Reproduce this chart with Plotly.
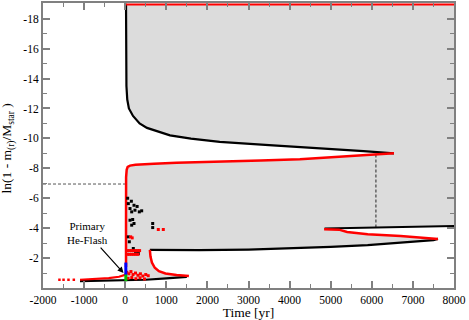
import plotly.graph_objects as go

# ===========================
# DATA
# ===========================

T_END = 8000
Y_SURFACE = -19.0

# upper convective boundary (black), from surface down to tip
env_t = [20, 22, 30, 50, 90, 190, 350, 530, 850, 1090, 1600, 2300, 3500, 4740, 5800, 6540]
env_y = [-19.0, -15.0, -13.5, -12.6, -12.0, -11.5, -11.0, -10.7, -10.4, -10.2, -9.98, -9.77, -9.55, -9.35, -9.15, -9.0]

# flash driven zone, upper edge (red), tip first
flash_t = [6540, 6000, 5300, 4250, 3300, 2300, 1250, 700, 440, 250, 117, 60, 36, 22, 20, 20]
flash_y = [-9.0, -8.9, -8.77, -8.6, -8.53, -8.47, -8.37, -8.3, -8.27, -8.23, -8.18, -8.1, -7.9, -7.4, -4.0, -1.4]

# secondary zone : black upper edge and red lower edge
inner_t = [4850, 5200, 6000, 7000, 8000]
inner_y = [-3.98, -4.0, -4.05, -4.1, -4.14]
sec_t = [4840, 5200, 5400, 5900, 6700, 7610]
sec_y = [-3.92, -3.9, -3.75, -3.6, -3.47, -3.28]

# lower boundary of the zone (black)
low_t = [600, 1800, 3000, 4000, 5000, 5900, 6800, 7500, 7610]
low_y = [-2.55, -2.53, -2.57, -2.64, -2.75, -2.87, -3.05, -3.2, -3.28]

# notch below the lower boundary (red)
notch_t = [600, 615, 650, 720, 820, 980, 1250, 1550]
notch_y = [-2.55, -2.1, -1.7, -1.35, -1.12, -0.97, -0.87, -0.8]

# bottom line (black) and pre-flash track (red)
base_t = [-1100, -500, 0, 500, 1000, 1500]
base_y = [-0.46, -0.48, -0.5, -0.55, -0.64, -0.75]
pre_t = [-1100, -700, -400, -150, 0, 20]
pre_y = [-0.55, -0.6, -0.66, -0.75, -0.88, -1.0]
pre_dot_t = [-1600, -1500, -1380, -1250]
pre_dot_y = [-0.55, -0.55, -0.55, -0.55]

# surface (red)
surf_t = [20, 8000]
surf_y = [-18.95, -18.95]

# scattered convective points
blk_dot_t = [76, 117, 214, 238, 158, 343, 401, 117, 182, 214, 158, 669, 669, 76, 100, 197, 60, 150, 290, 250, 320]
blk_dot_y = [-5.64, -5.31, -5.53, -5.2, -5.09, -5.09, -5.16, -4.53, -4.58, -4.31, -4.2, -4.31, -4.04,
             -3.42, -3.09, -2.64, -6.0, -5.8, -5.45, -2.45, -2.3]
red_dot_t = [805, 927, 133, 170, 60, 110, 160, 210, 260, 310, 350, 60, 110, 160, 210, 260, 310,
             40, 90, 140, 190, 250, 310, 370, 430, 500, 560, 70, 160, 260, 360, 470]
red_dot_y = [-3.91, -3.91, -3.42, -3.35, -2.5, -2.5, -2.5, -2.5, -2.5, -2.5, -2.5, -2.25, -2.25, -2.25,
             -2.25, -2.25, -2.25, -1.05, -0.95, -1.1, -0.9, -1.0, -0.85, -0.95, -0.8, -0.9, -0.82,
             -0.65, -0.7, -0.62, -0.68, -0.6]

# helium flash onset markers
blue_t = [15, 15]
blue_y = [-1.7, -0.85]
green_t = [15, 15]
green_y = [-0.9, -0.45]

# dashed guides
guide_v_t = [6100, 6100]
guide_v_y = [-8.93, -4.08]
guide_h_t = [-2000, 0]
guide_h_y = [-6.95, -6.95]

x_ticks = [-2000, -1000, 0, 1000, 2000, 3000, 4000, 5000, 6000, 7000, 8000]
y_ticks = [-18, -16, -14, -12, -10, -8, -6, -4, -2]

# ===========================
# FIGURE
# ===========================

FONT = "Liberation Serif"
AXIS_GRAY = "#808080"

# grey zone outline, built from the boundaries
poly_t = ([T_END] + inner_t[::-1] + sec_t + low_t[::-1] + notch_t
          + [t for t in base_t[::-1] if t >= 0] + flash_t[::-1] + env_t[::-1])
poly_y = ([Y_SURFACE] + inner_y[::-1] + sec_y + low_y[::-1] + notch_y
          + [y for t, y in zip(base_t[::-1], base_y[::-1]) if t >= 0] + flash_y[::-1] + env_y[::-1])

fig = go.Figure()

fig.add_trace(go.Scatter(x=poly_t, y=poly_y, fill="toself", fillcolor="#dcdcdc",
                         mode="lines", line=dict(width=0), hoverinfo="skip"))


def add_line(t, y, color, width=2, dash="solid"):
    fig.add_trace(go.Scatter(x=t, y=y, mode="lines",
                             line=dict(color=color, width=width, dash=dash)))


def add_dots(t, y, color, size=3):
    fig.add_trace(go.Scatter(x=t, y=y, mode="markers",
                             marker=dict(color=color, size=size, symbol="square")))


add_line(guide_v_t, guide_v_y, "#444444", 1.2, "3px,2px")
add_line(guide_h_t, guide_h_y, "#555555", 1, "3px,2px")

add_line(env_t, env_y, "black", 2.2)
add_line(inner_t, inner_y, "black", 2)
add_line(low_t, low_y, "black", 2.2)
add_line(base_t, base_y, "black", 2.2)

add_line(flash_t, flash_y, "#ff0000", 2.5)
add_line(sec_t, sec_y, "#ff0000", 2.5)
add_line(notch_t, notch_y, "#ff0000", 2.5)
add_line(pre_t, pre_y, "#ff0000", 2.2)
add_line(surf_t, surf_y, "#ff0000", 2)

add_dots(blk_dot_t, blk_dot_y, "black", 3)
add_dots(red_dot_t, red_dot_y, "#ff0000", 3)
add_dots(pre_dot_t, pre_dot_y, "#ff0000", 2.5)

add_line(blue_t, blue_y, "#0000ff", 3)
add_line(green_t, green_y, "#00c000", 3)

fig.add_annotation(
    x=-40, y=-1.0, text="Primary<br>He-Flash",
    showarrow=True, ax=-36, ay=-40,
    arrowhead=2, arrowsize=1, arrowwidth=1.2, arrowcolor="black",
    font=dict(family=FONT, size=11, color="black")
)

# y axis title as annotation
fig.add_annotation(
    x=-0.085, y=0.49, xref="paper", yref="paper", showarrow=False, textangle=-90,
    xanchor="center", yanchor="middle",
    text="ln(1 - m<sub>(r)</sub>/M<sub>star</sub> )",
    font=dict(family=FONT, size=13.5, color="black")
)

axis_style = dict(
    showgrid=False, zeroline=False, showline=True, linecolor=AXIS_GRAY, linewidth=2,
    mirror="allticks", ticks="inside", ticklen=7, tickwidth=1.5, tickcolor=AXIS_GRAY,
    tickfont=dict(family=FONT, size=11.5, color="black"),
)

fig.update_xaxes(
    range=[-2000, 8000], tickmode="array", tickvals=x_ticks,
    ticktext=[str(v) for v in x_ticks],
    minor=dict(ticks="inside", ticklen=4, tickwidth=1, tickcolor=AXIS_GRAY, dtick=500, tick0=0),
    title=dict(text="Time [yr]", font=dict(family=FONT, size=13.5, color="black"), standoff=2),
    **axis_style
)
fig.update_yaxes(
    range=[0, -19.05], tickmode="array", tickvals=y_ticks,
    ticktext=[str(v) for v in y_ticks],
    minor=dict(ticks="inside", ticklen=4, tickwidth=1, tickcolor=AXIS_GRAY, dtick=1, tick0=0),
    **axis_style
)

fig.update_layout(
    width=469, height=320,
    margin=dict(l=43, r=15, t=1, b=32),
    paper_bgcolor="white", plot_bgcolor="white",
    showlegend=False,
    font=dict(family=FONT, color="black"),
)

# the page body has a default 8px margin; drop it so the figure sits at the window corner
fig.write_html("out.html", config={"displayModeBar": False},
               post_script="document.body.style.margin='0';")
